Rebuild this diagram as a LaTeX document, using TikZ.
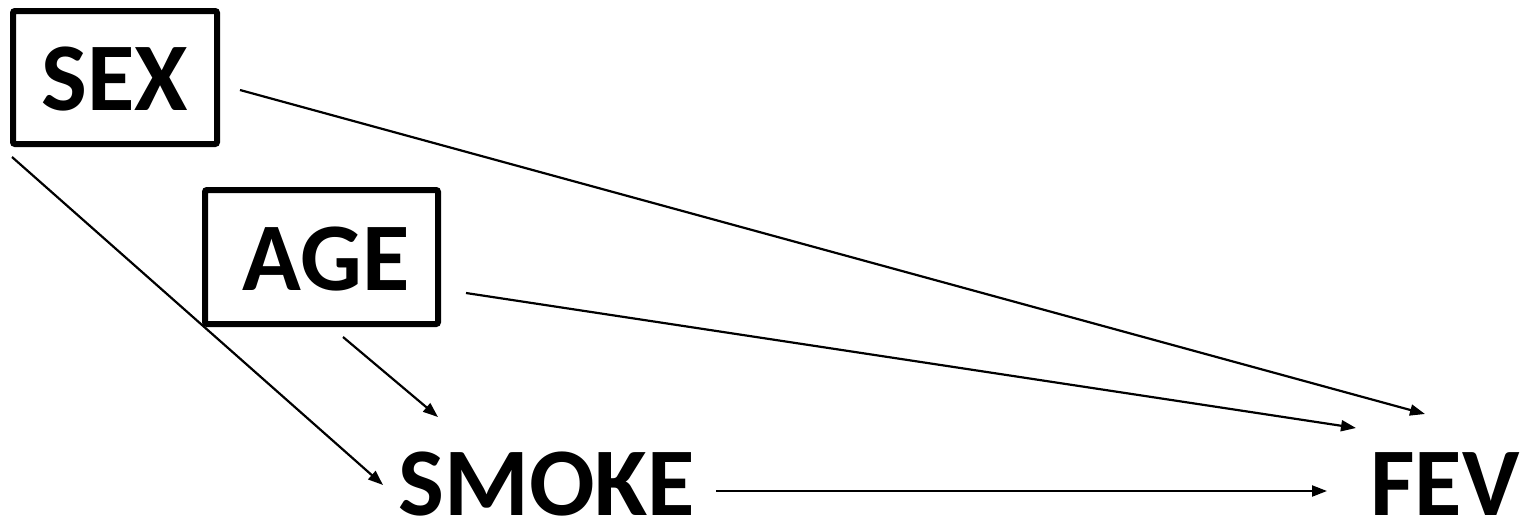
\documentclass[tikz,border=0pt]{standalone}
\usepackage{fontspec}
\setmainfont{Carlito}
\usetikzlibrary{arrows.meta}
\begin{document}
\begin{tikzpicture}[x=1pt,y=-1pt,
  lbl/.style={inner sep=0pt,anchor=base,text depth=0pt,font=\fontsize{97}{100}\selectfont\bfseries},
  boxframe/.style={draw=black,line width=6pt,rounded corners=2pt},
  arr/.style={draw=black,line width=2.2pt,-{Triangle[length=15pt,width=11pt]}}]
\useasboundingbox (0,0) rectangle (1527,523);
% boxes
\draw[boxframe] (13,11) rectangle (217,144);
\draw[boxframe] (205,190) rectangle (438,324);
% labels
\node[lbl] (sex) at (115,110) {SEX};
\node[lbl] (age) at (326,290) {AGE};
\node[lbl] (smoke) at (547,515) {SMOKE};
\node[lbl] (fev) at (1445,515) {FEV};
% connector end points
\coordinate (sexA) at (240,90);
\coordinate (sexB) at (12,157);
\coordinate (ageA) at (466,293);
\coordinate (ageB) at (343,337);
\coordinate (smkIn1) at (383,485);
\coordinate (smkIn2) at (438,417);
\coordinate (smkOut) at (716,491);
\coordinate (fevIn1) at (1425,414);
\coordinate (fevIn2) at (1356,428);
\coordinate (fevIn3) at (1327,491);
% connectors
\draw[arr] (sexA) -- (fevIn1);
\draw[arr] (sexB) -- (smkIn1);
\draw[arr] (ageA) -- (fevIn2);
\draw[arr] (ageB) -- (smkIn2);
\draw[arr] (smkOut) -- (fevIn3);
\end{tikzpicture}
\end{document}
